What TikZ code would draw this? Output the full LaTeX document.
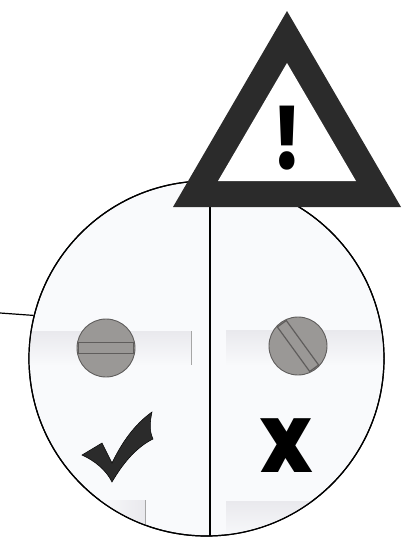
\documentclass[tikz,border=0pt]{standalone}
\usepackage{fontspec}
\setmainfont{Poppins}[BoldFont=Poppins Black]
\usepackage{xcolor}
\usetikzlibrary{positioning}
\definecolor{lensfill}{HTML}{F9FAFC}
\definecolor{bandgray}{HTML}{E9E9ED}
\definecolor{screwgray}{HTML}{9A9896}
\definecolor{screwedge}{HTML}{5F5D5C}
\definecolor{signdark}{HTML}{2B2B2B}

\begin{document}
\begin{tikzpicture}[
    x=1pt, y=-1pt,
    lens/.style={circle, draw=black, line width=1.2pt, fill=lensfill, minimum size=355pt, inner sep=0pt},
    screw/.style={circle, draw=screwedge, line width=0.9pt, fill=screwgray, minimum size=58pt, inner sep=0pt},
    slot/.style={rectangle, draw=screwedge, line width=1.2pt, minimum width=55pt, minimum height=11pt, inner sep=0pt},
    band/.style={top color=bandgray, bottom color=lensfill, draw=none},
    tick/.style={draw=gray!70, line width=1pt},
    glyph/.style={font=\bfseries, inner sep=0pt},
]
\useasboundingbox (0,0) rectangle (405,538);

% Lens
\node[lens] (lens) at (206.5,358.5) {};

% Shaded strips behind the screws
\begin{scope}
\clip (206.5,358.5) circle (177pt);
\fill[band] (25,331) rectangle (191,366);
\fill[band] (226,330) rectangle (390,366);
\fill[left color=lensfill, right color=bandgray] (95,500) rectangle (145,540);
\fill[band] (226,501) rectangle (390,540);
\draw[tick] (191,331) -- (191,365);
\draw[tick] (145,500) -- (145,530);
\end{scope}
\draw[black, line width=1.2pt] (206.5,358.5) circle (177.5pt);

% Leader and divider
\coordinate (leadstart) at (0,313);
\coordinate (divtop) at (210,190);
\coordinate (divbot) at (210,536);
\draw[black, line width=1.2pt] (leadstart) -- (lens.166);
\draw[black, line width=1.2pt] (divtop) -- (divbot);

% Screws
\node[screw] (screwleft) at (106,348) {};
\node[slot] (slotleft) at (screwleft.center) {};
\node[screw] (screwright) at (298,346) {};
\node[slot, rotate=-54] (slotright) at (screwright.center) {};

% Check mark and cross
\fill[signdark, draw=black, line width=0.5pt] (152,412) .. controls (150,422) and (149,430) .. (153,439)
  .. controls (135,448) and (122,465) .. (112,482)
  .. controls (106,470) and (95,461) .. (82,455)
  -- (102,443) -- (112,463)
  .. controls (122,442) and (135,424) .. (152,412) -- cycle;
\node[glyph, font=\bfseries\fontsize{76}{76}\selectfont, xscale=0.9] (cross) at (287,446) {X};

% Warning sign
\fill[signdark] (287,11) -- (401,207) -- (173,207) -- cycle;
\fill[white] (287,63) -- (356,181) -- (218,181) -- cycle;
\node[glyph, font=\bfseries\fontsize{84}{84}\selectfont, xscale=0.72] (warn) at (287.5,138) {!};
\end{tikzpicture}
\end{document}
